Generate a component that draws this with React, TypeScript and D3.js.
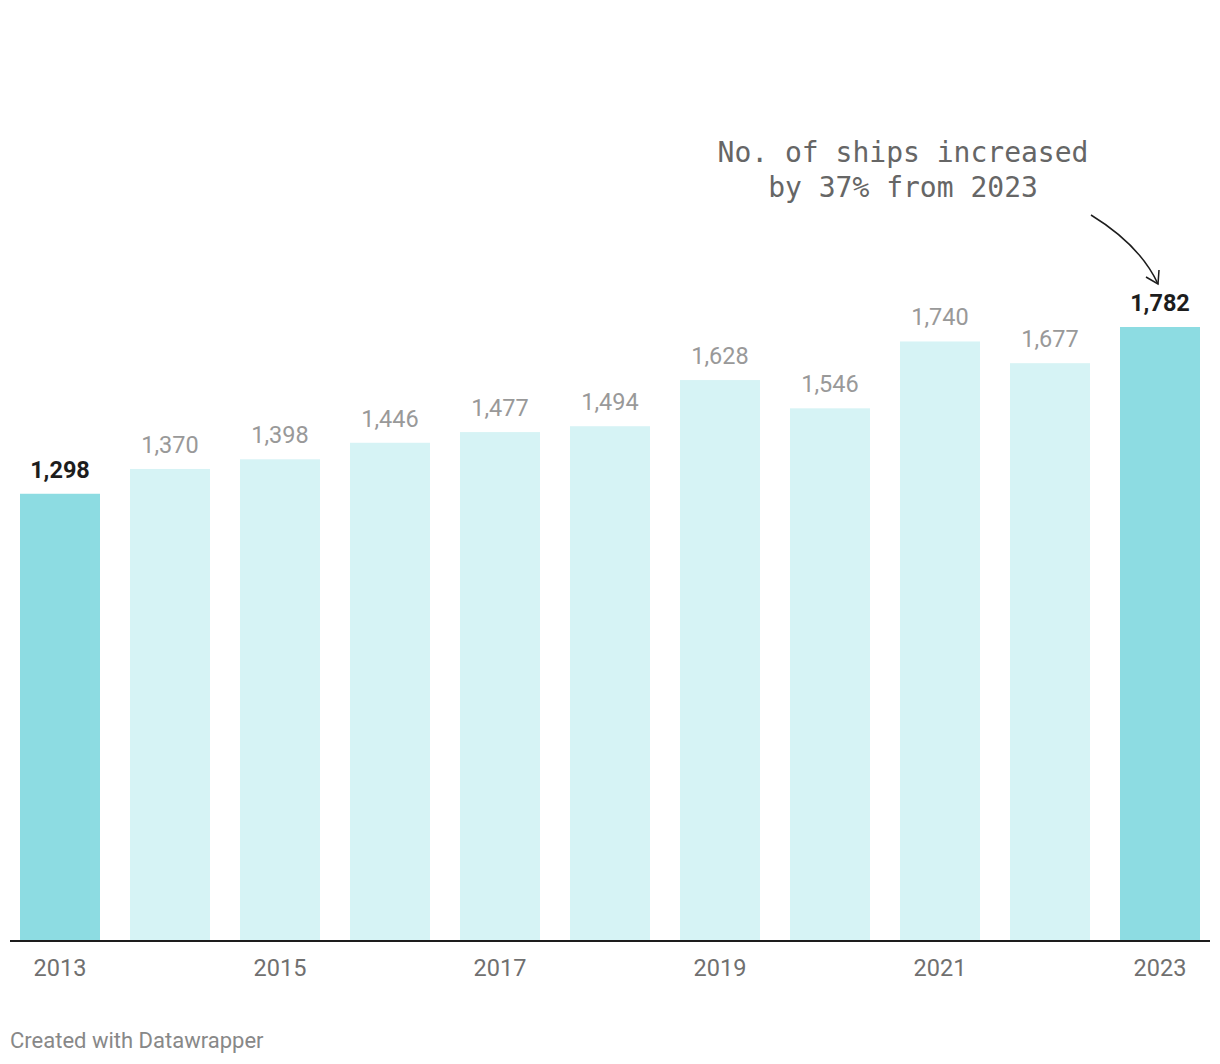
import React from "react";
import * as d3 from "d3";

const years = ["2013","2014","2015","2016","2017","2018","2019","2020","2021","2022","2023"];
const values = [1298,1370,1398,1446,1477,1494,1628,1546,1740,1677,1782];
const highlighted = ["2013","2023"];
const tickYears = ["2013","2015","2017","2019","2021","2023"];
const annotationLines = ["No. of ships increased","by 37% from 2023"];

const W = 1220, H = 1064;

export default function App() {
  const x = d3.scaleBand<string>().domain(years).range([10, 1210]).paddingInner(30/110).paddingOuter(10/110);
  const y = d3.scaleLinear().domain([0, 1782]).range([941, 327]);
  const fmt = d3.format(",");
  const arrow = d3.path();
  arrow.moveTo(1091, 215);
  arrow.quadraticCurveTo(1140, 245, 1158, 284);
  return (
    <svg width={W} height={H} style={{ position: "absolute", left: 0, top: 0, background: "#fff" }}>
      {years.map((yr, i) => {
        const hi = highlighted.includes(yr);
        const bx = x(yr)!;
        return (
          <g key={yr}>
            <rect x={bx} y={y(values[i])} width={x.bandwidth()} height={y(0) - y(values[i])} fill={hi ? "#8ddce2" : "#d6f3f5"} />
            <text x={bx + x.bandwidth() / 2} y={y(values[i]) - 16} textAnchor="middle"
              fontFamily="Roboto" fontSize={23.5} fontWeight={hi ? 700 : 400} fill={hi ? "#1d1d1d" : "#999999"}>
              {fmt(values[i])}
            </text>
          </g>
        );
      })}
      <line x1={10} x2={1210} y1={941} y2={941} stroke="#1d1d1d" strokeWidth={2} />
      {tickYears.map((yr) => (
        <text key={yr} x={x(yr)! + x.bandwidth() / 2} y={976} textAnchor="middle" fontFamily="Roboto" fontSize={23.5} fill="#707070">{yr}</text>
      ))}
      {annotationLines.map((l, i) => (
        <text key={i} x={903} y={162 + i * 35} textAnchor="middle" fontFamily="'DejaVu Sans Mono', 'Noto Sans Mono', monospace" fontSize={28} fill="#666666">{l}</text>
      ))}
      <path d={arrow.toString()} fill="none" stroke="#1d1d1d" strokeWidth={1.5} />
      <path d="M1146,277 L1158,284 L1159,270" fill="none" stroke="#1d1d1d" strokeWidth={1.5} />
      <text x={10} y={1048} fontFamily="Roboto" fontSize={22} fill="#888888">Created with Datawrapper</text>
    </svg>
  );
}
